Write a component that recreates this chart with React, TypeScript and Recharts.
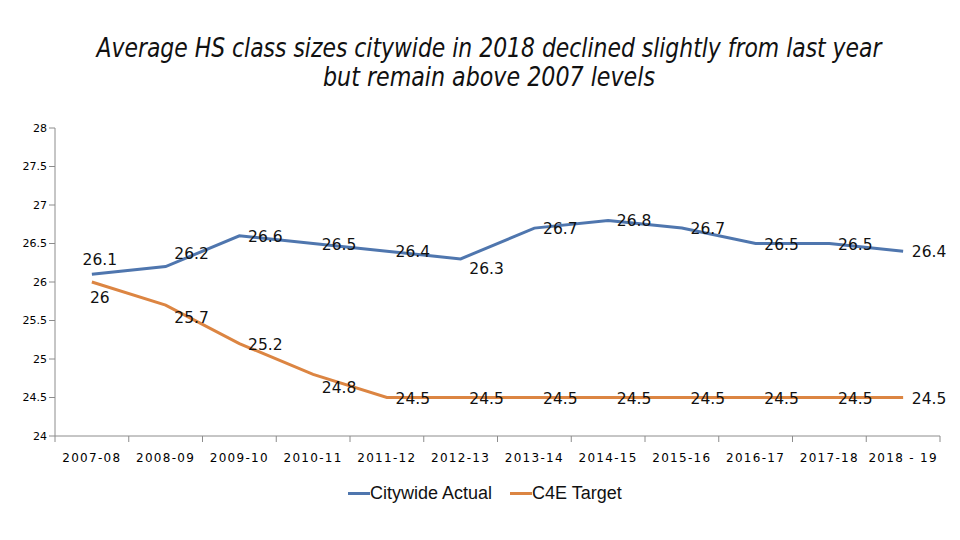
import React from "react";
import { LineChart, Line, XAxis, YAxis, LabelList } from "recharts";

const years = [
  "2007-08", "2008-09", "2009-10", "2010-11", "2011-12", "2012-13",
  "2013-14", "2014-15", "2015-16", "2016-17", "2017-18", "2018 - 19",
];
const actual = [26.1, 26.2, 26.6, 26.5, 26.4, 26.3, 26.7, 26.8, 26.7, 26.5, 26.5, 26.4];
const target = [26, 25.7, 25.2, 24.8, 24.5, 24.5, 24.5, 24.5, 24.5, 24.5, 24.5, 24.5];
const yTicks = [24, 24.5, 25, 25.5, 26, 26.5, 27, 27.5, 28];

const BLUE = "#4f76ae";
const ORANGE = "#dc8542";
const AXIS = "#8c8c8c";

const data = years.map((y, i) => ({ year: y, actual: actual[i], target: target[i] }));

const W = 960;
const H = 540;
const plotLeft = 55;
const plotRight = 940;
const band = (plotRight - plotLeft) / years.length;

const XTick = (props: any) => {
  const { x, y, payload, index } = props;
  const half = band / 2;
  return (
    <g>
      <line x1={x - half} x2={x - half} y1={y - 8} y2={y - 2} stroke={AXIS} />
      {index === years.length - 1 && (
        <line x1={x + half} x2={x + half} y1={y - 8} y2={y - 2} stroke={AXIS} />
      )}
      <text
        x={x}
        y={y + 18}
        textAnchor="middle"
        fontFamily="DejaVu Sans"
        fontSize={12}
        letterSpacing={1.3}
        fill="#000"
      >
        {payload.value}
      </text>
    </g>
  );
};

// label to the right of each point; first one above / below
const makeLabel = (below: boolean) => (props: any) => {
  const { x, y, value, index } = props;
  let lx = x + 26;
  let ly = y + 6;
  if (index === 0) {
    lx = x + 8;
    ly = below ? y + 21 : y - 9;
  } else if (index === 1) {
    ly = below ? y + 18 : y - 8;
  } else if (below && index === 3) {
    ly = y + 19;
  } else if (!below && index === 5) {
    ly = y + 15;
  }
  return (
    <text
      x={lx}
      y={ly}
      textAnchor="middle"
      fontFamily="DejaVu Sans"
      fontSize={15.5}
      fill="#111"
    >
      {value}
    </text>
  );
};

export default function App() {
  return (
    <div style={{ position: "absolute", left: 0, top: 0, width: W, height: H, background: "#fff" }}>
      <svg width={W} height={100} style={{ position: "absolute", left: 0, top: 0 }}>
        <text
          x={489}
          y={57}
          textAnchor="middle"
          fontFamily="'Liberation Sans Narrow', 'DejaVu Sans Condensed', sans-serif"
          fontStyle="italic"
          fontSize={27}
          textLength={785}
          lengthAdjust="spacingAndGlyphs"
          fill="#111"
        >
          Average HS class sizes citywide in 2018 declined slightly from last year
        </text>
        <text
          x={489}
          y={86}
          textAnchor="middle"
          fontFamily="'Liberation Sans Narrow', 'DejaVu Sans Condensed', sans-serif"
          fontStyle="italic"
          fontSize={27}
          textLength={332}
          lengthAdjust="spacingAndGlyphs"
          fill="#111"
        >
          but remain above 2007 levels
        </text>
      </svg>
      <LineChart
        width={W}
        height={H}
        data={data}
        margin={{ top: 128, right: W - plotRight, bottom: 74, left: 10 }}
      >
        <XAxis
          dataKey="year"
          scale="band"
          stroke={AXIS}
          tickLine={false}
          tick={<XTick />}
          height={30}
          interval={0}
        />
        <YAxis
          domain={[24, 28]}
          ticks={yTicks}
          width={45}
          stroke={AXIS}
          tickSize={6}
          tick={{ fontFamily: "DejaVu Sans", fontSize: 11, fill: "#000" }}
        />
        <Line
          dataKey="actual"
          stroke={BLUE}
          strokeWidth={3}
          dot={false}
          isAnimationActive={false}
        >
          <LabelList dataKey="actual" content={makeLabel(false)} />
        </Line>
        <Line
          dataKey="target"
          stroke={ORANGE}
          strokeWidth={3}
          dot={false}
          isAnimationActive={false}
        >
          <LabelList dataKey="target" content={makeLabel(true)} />
        </Line>
      </LineChart>
      <div
        style={{
          position: "absolute",
          top: 483,
          left: 348,
          display: "flex",
          alignItems: "center",
          fontFamily: "'Liberation Sans', sans-serif",
          fontSize: 18,
          color: "#111",
          whiteSpace: "nowrap",
        }}
      >
        <span style={{ display: "inline-block", width: 22, height: 3, background: BLUE }} />
        <span style={{ marginRight: 18 }}>Citywide Actual</span>
        <span style={{ display: "inline-block", width: 22, height: 3, background: ORANGE }} />
        <span>C4E Target</span>
      </div>
    </div>
  );
}
